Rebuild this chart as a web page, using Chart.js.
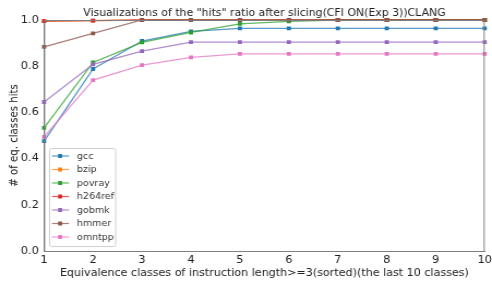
<!DOCTYPE html>
<html>
<head>
<meta charset="utf-8">
<script src="https://cdn.jsdelivr.net/npm/chart.js@4"></script>
<style>
  html, body { margin: 0; padding: 0; background: #fff; overflow: hidden; }
  /* the reference is slightly stretched horizontally, so draw narrower and scale */
  #wrap { width: 451px; height: 284px; position: relative; transform: scaleX(1.0909); transform-origin: 0 0; }
</style>
</head>
<body>
<div id="wrap"><canvas id="hitsChart"></canvas></div>
<script>
// Data
const categories = [1, 2, 3, 4, 5, 6, 7, 8, 9, 10];
const seriesNames = ['gcc', 'bzip', 'povray', 'h264ref', 'gobmk', 'hmmer', 'omntpp'];
const gcc     = [0.476, 0.788, 0.909, 0.951, 0.964, 0.964, 0.964, 0.964, 0.964, 0.964];
const bzip    = [0.995, 0.997, 1.0, 1.0, 1.0, 1.0, 1.0, 1.0, 1.0, 1.0];
const povray  = [0.533, 0.816, 0.903, 0.946, 0.983, 0.994, 1.0, 1.0, 1.0, 1.0];
const h264ref = [0.995, 0.997, 1.0, 1.0, 1.0, 1.0, 1.0, 1.0, 1.0, 1.0];
const gobmk   = [0.645, 0.808, 0.865, 0.904, 0.904, 0.904, 0.904, 0.904, 0.904, 0.904];
const hmmer   = [0.884, 0.942, 1.0, 1.0, 1.0, 1.0, 1.0, 1.0, 1.0, 1.0];
const omntpp  = [0.494, 0.740, 0.805, 0.838, 0.853, 0.853, 0.853, 0.853, 0.853, 0.853];
const yTicks  = [0.0, 0.2, 0.4, 0.6, 0.8, 1.0];
const chartTitle = 'Visualizations of the "hits" ratio after slicing(CFI ON(Exp 3))CLANG';

const seriesValues = [gcc, bzip, povray, h264ref, gobmk, hmmer, omntpp];
const colors = ['31,119,180', '255,127,14', '44,160,44', '214,39,40', '148,103,189', '140,86,75', '227,119,194'];

const FONT = 'DejaVu Sans';
const TEXT = '#222';

// Title centred over the plot area (matplotlib style)
const plotTitle = {
    id: 'plotTitle',
    afterDraw(chart) {
        const { ctx, chartArea: a } = chart;
        ctx.save();
        ctx.font = `10px "${FONT}"`;
        ctx.fillStyle = TEXT;
        ctx.textAlign = 'center';
        ctx.textBaseline = 'alphabetic';
        ctx.fillText(chartTitle, (a.left + a.right) / 2, 15.8);
        ctx.restore();
    }
};

// Legend drawn inside the plot, bottom-left, like matplotlib
const insideLegend = {
    id: 'insideLegend',
    afterDatasetsDraw(chart) {
        const { ctx, chartArea } = chart;
        const x0 = chartArea.left + 4.6;
        const y0 = chartArea.top + 128;
        const w = 60.5, rowH = 13.5;
        const h = rowH * chart.data.datasets.length + 3.5;

        ctx.save();
        ctx.fillStyle = 'rgba(255,255,255,0.8)';
        ctx.strokeStyle = '#d0d0d0';
        ctx.lineWidth = 1;
        ctx.beginPath();
        ctx.roundRect(x0 + 0.5, y0 + 0.5, w, h, 2);
        ctx.fill();
        ctx.stroke();

        ctx.font = `8.7px "${FONT}"`;
        ctx.textBaseline = 'middle';
        chart.data.datasets.forEach((ds, i) => {
            const cy = y0 + 8 + i * rowH;
            ctx.strokeStyle = ds.borderColor;
            ctx.lineWidth = 1.2;
            ctx.beginPath();
            ctx.moveTo(x0 + 2.7, cy);
            ctx.lineTo(x0 + 18.3, cy);
            ctx.stroke();
            ctx.fillStyle = ds.pointBackgroundColor;
            ctx.fillRect(x0 + 8.3, cy - 2, 3.6, 4);
            ctx.fillStyle = '#333';
            ctx.fillText(ds.label, x0 + 25.6, cy + 0.5);
        });
        ctx.restore();
    }
};

// Gray frame on all four sides of the plot
const frame = {
    id: 'frame',
    afterDraw(chart) {
        const { ctx, chartArea: a } = chart;
        ctx.save();
        ctx.strokeStyle = '#7f7f7f';
        ctx.lineWidth = 1;
        ctx.strokeRect(a.left + 0.5, a.top + 0.5, a.right - a.left - 1, a.bottom - a.top);
        ctx.restore();
    }
};

const datasets = seriesNames.map((name, i) => ({
    label: name,
    data: categories.map((c, j) => ({ x: c, y: seriesValues[i][j] })),
    borderColor: `rgba(${colors[i]},0.75)`,
    backgroundColor: `rgb(${colors[i]})`,
    pointBackgroundColor: `rgb(${colors[i]})`,
    pointBorderWidth: 0,
    pointStyle: 'rect',
    pointRadius: 2.7,
    borderWidth: 1.3,
    tension: 0,
    order: seriesNames.length - i,   // later series on top, like matplotlib
    clip: 3
}));

new Chart(document.getElementById('hitsChart'), {
    type: 'line',
    data: { datasets },
    options: {
        responsive: true,
        maintainAspectRatio: false,
        animation: false,
        layout: { padding: { top: 20, right: 6, left: 0, bottom: 0 } },
        plugins: {
            legend: { display: false },
            tooltip: { enabled: false },
            title: { display: false }
        },
        scales: {
            x: {
                type: 'linear',
                min: 1,
                max: 10,
                afterBuildTicks: (scale) => { scale.ticks = categories.map(v => ({ value: v })); },
                afterFit: (scale) => { scale.height = 33; },
                grid: { display: false, drawTicks: true, tickLength: 3, tickColor: '#555' },
                border: { display: true, color: '#7f7f7f' },
                ticks: {
                    color: TEXT,
                    padding: 0,
                    maxRotation: 0,
                    font: { family: FONT, size: 10.5 }
                },
                title: {
                    display: true,
                    text: 'Equivalence classes of instruction length>=3(sorted)(the last 10 classes)',
                    color: TEXT,
                    font: { family: FONT, size: 10.2, lineHeight: 1.2 },
                    padding: { top: 0, bottom: 5 }
                }
            },
            y: {
                min: 0,
                max: 1,
                afterBuildTicks: (scale) => { scale.ticks = yTicks.map(v => ({ value: v })); },
                afterFit: (scale) => { scale.width = 40.4; },
                grid: { display: false, drawTicks: true, tickLength: 3.3, tickColor: '#555' },
                border: { display: true, color: '#7f7f7f' },
                ticks: {
                    color: TEXT,
                    padding: 1.5,
                    font: { family: FONT, size: 10.5 },
                    callback: (v) => v.toFixed(1)
                },
                title: {
                    display: true,
                    text: '# of eq. classes hits',
                    color: TEXT,
                    font: { family: FONT, size: 10.2, lineHeight: 1.2 },
                    padding: { top: 7.5, bottom: 0 }
                }
            }
        }
    },
    plugins: [insideLegend, frame, plotTitle]
});
</script>
</body>
</html>
